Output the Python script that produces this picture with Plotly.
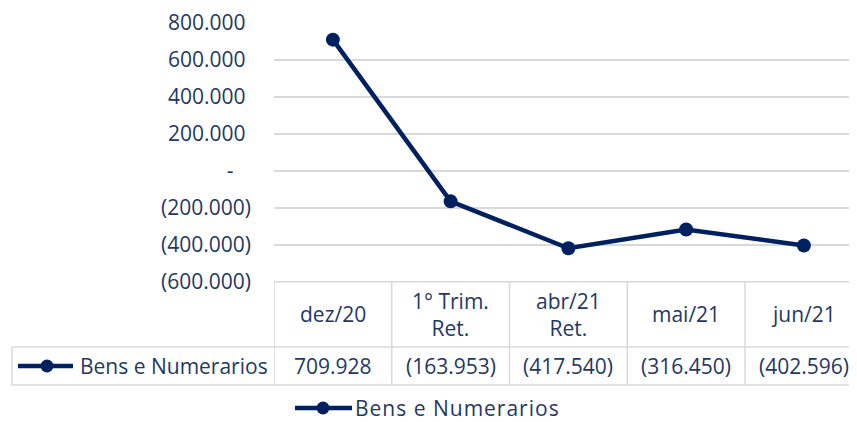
import plotly.graph_objects as go

# ---- data ----
categories = ["dez/20", "1° Trim.<br>Ret.", "abr/21<br>Ret.", "mai/21", "jun/21"]
series_name = "Bens e Numerarios"
values = [709928, -163953, -417540, -316450, -402596]
y_ticks = [800000, 600000, 400000, 200000, 0, -200000, -400000, -600000]

NAVY = "#002060"
TEXT = "#1F3864"
GRID = "#D9D9D9"
FONT = "Open Sans"
FS = 21
OFF = 8  # page body margin
W, H = 857, 422
PLOT_L, PLOT_T, PLOT_B = 274, 23, 282  # page pixels
ML, MT = PLOT_L - OFF, PLOT_T - OFF
MB = H - (PLOT_B - OFF)
PW = W - ML
PH = H - MT - MB
COLW = 117.75


def fmt(v):
    if v == 0:
        return "-\u2007\u2008"
    s = f"{abs(v):,.0f}".replace(",", ".")
    return f"({s})" if v < 0 else s + "\u2008"


def fmt_cell(v):
    s = f"{abs(v):,.0f}".replace(",", ".")
    return f"({s})" if v < 0 else s


def py(pix):
    return (PLOT_B - pix) / PH


def px(pix):
    return (pix - PLOT_L) / PW


xs = list(range(len(categories)))
x_hi = -0.5 + PW / COLW

fig = go.Figure()
fig.add_trace(go.Scatter(
    x=xs, y=values, mode="lines+markers", name=series_name,
    line=dict(color=NAVY, width=4.5),
    marker=dict(color=NAVY, size=14),
    showlegend=False, hoverinfo="skip",
))

shapes = []
line_style = dict(color=GRID, width=1.5)
shapes.append(dict(type="line", xref="paper", yref="paper", x0=0, x1=1,
                   y0=py(281.7), y1=py(281.7), line=line_style))
for k in range(len(categories) + 1):
    shapes.append(dict(type="line", xref="x", yref="paper", x0=k - 0.5, x1=k - 0.5,
                       y0=py(281.7), y1=py(385), line=line_style))
for yy in (347, 385):
    shapes.append(dict(type="line", xref="paper", yref="paper", x0=px(12), x1=1,
                       y0=py(yy), y1=py(yy), line=line_style))
shapes.append(dict(type="line", xref="paper", yref="paper", x0=px(12), x1=px(12),
                   y0=py(347), y1=py(385), line=line_style))


def legend_key(x0, x1, xm, yy):
    shapes.append(dict(type="line", xref="paper", yref="paper", x0=px(x0), x1=px(x1),
                       y0=py(yy), y1=py(yy), line=dict(color=NAVY, width=4.5)))
    r = 6.5
    shapes.append(dict(type="circle", xref="paper", yref="paper",
                       x0=px(xm - r), x1=px(xm + r), y0=py(yy + r), y1=py(yy - r),
                       fillcolor=NAVY, line=dict(color=NAVY, width=0)))


LEG_Y = 408
legend_key(18, 73, 47, 366)
legend_key(295, 352, 323, LEG_Y)

annotations = []
for i, c in enumerate(categories):
    annotations.append(dict(x=i, y=py(314), xref="x", yref="paper", text=c,
                            showarrow=False, font=dict(family=FONT, size=FS, color=TEXT),
                            xanchor="center", yanchor="middle", align="center"))
    annotations.append(dict(x=i, y=py(366), xref="x", yref="paper", text=fmt_cell(values[i]),
                            showarrow=False, font=dict(family=FONT, size=FS, color=TEXT),
                            xanchor="center", yanchor="middle"))
annotations.append(dict(x=px(78), y=py(366), xref="paper", yref="paper", text=series_name,
                        showarrow=False, font=dict(family=FONT, size=FS, color=TEXT),
                        xanchor="left", yanchor="middle"))
annotations.append(dict(x=px(353), y=py(LEG_Y), xref="paper", yref="paper",
                        text=f'<span style="letter-spacing:1px">{series_name}</span>',
                        showarrow=False, font=dict(family=FONT, size=FS, color=TEXT),
                        xanchor="left", yanchor="middle"))

fig.update_layout(
    width=W, height=H,
    margin=dict(l=ML, r=0, t=MT, b=MB, pad=0),
    paper_bgcolor="white", plot_bgcolor="white",
    shapes=shapes, annotations=annotations,
    xaxis=dict(range=[-0.5, x_hi], showgrid=False, zeroline=False, showline=False,
               showticklabels=False, ticks="", fixedrange=True),
    yaxis=dict(range=[-600000, 800000], tickvals=y_ticks, ticktext=[fmt(v) for v in y_ticks],
               showgrid=True, gridcolor=GRID, gridwidth=1.5, zeroline=False, showline=False,
               ticks="", ticklabelstandoff=22,
               tickfont=dict(family=FONT, size=FS, color=TEXT), fixedrange=True),
    showlegend=False,
)

fig.write_html("out.html", config={"displayModeBar": False})
